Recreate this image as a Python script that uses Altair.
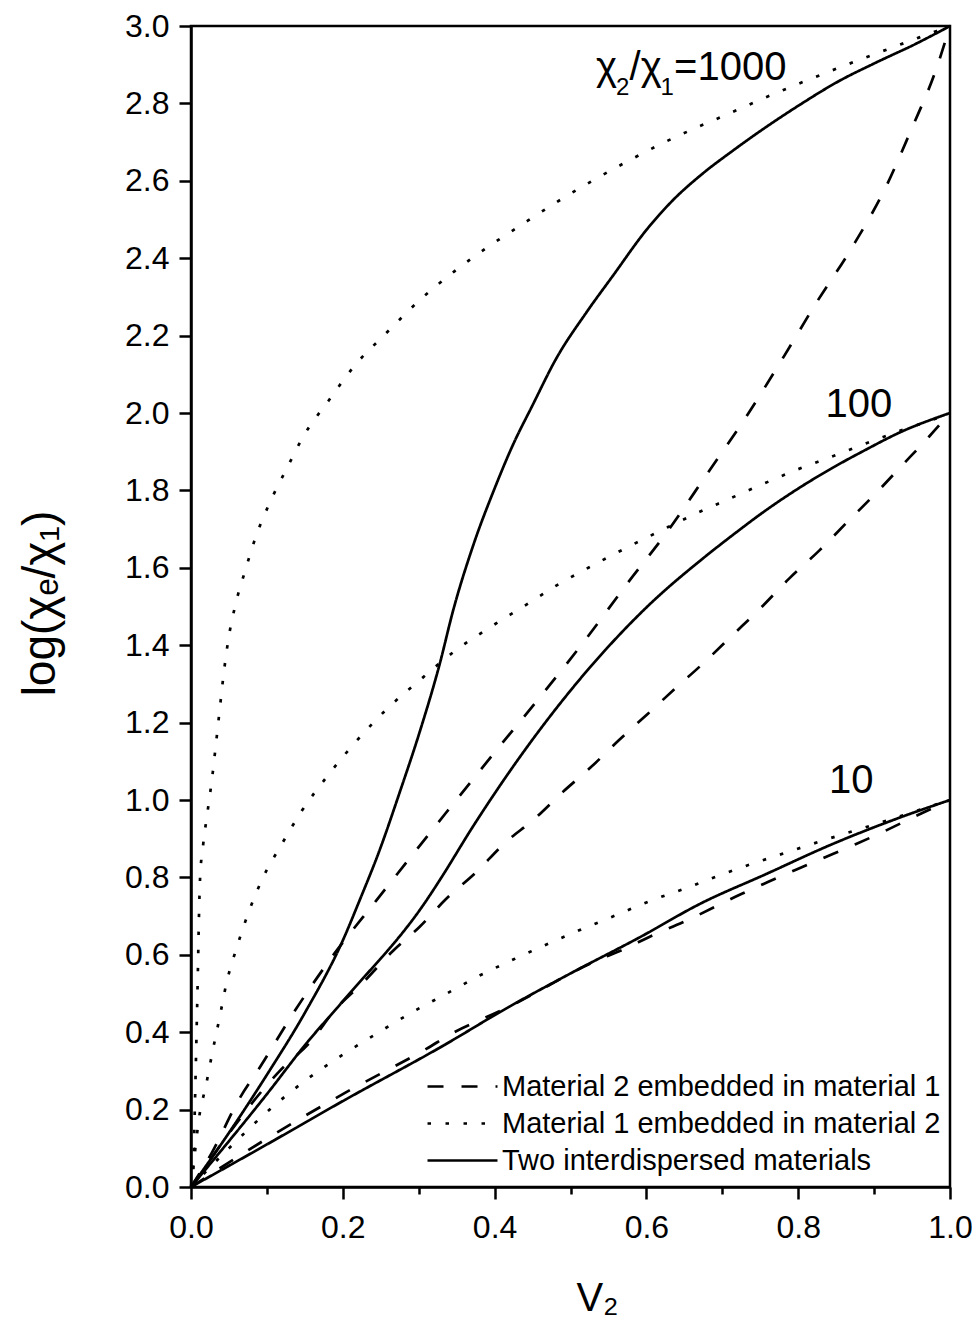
import altair as alt
import pandas as pd

FONT = "Liberation Sans, Arial, sans-serif"

M2 = "Material 2 embedded in material 1"
M1 = "Material 1 embedded in material 2"
TW = "Two interdispersed materials"

# ---- ratio 1000 ----
v_dot_1000 = [0, 0.003, 0.005, 0.007, 0.009, 0.0105, 0.012, 0.016, 0.022, 0.028, 0.033, 0.038, 0.043, 0.049, 0.058, 0.071, 0.085, 0.103, 0.126, 0.149, 0.181, 0.215, 0.257, 0.301, 0.347, 0.392, 0.436, 0.481, 0.527, 0.572, 0.617, 0.663, 0.708, 0.753, 0.797, 0.843, 0.888, 0.933, 1.0]
y_dot_1000 = [0, 0.05, 0.2, 0.37, 0.55, 0.70, 0.80, 0.884, 0.972, 1.06, 1.147, 1.237, 1.325, 1.412, 1.50, 1.59, 1.678, 1.765, 1.856, 1.943, 2.031, 2.121, 2.206, 2.291, 2.366, 2.43, 2.487, 2.544, 2.598, 2.647, 2.693, 2.735, 2.773, 2.812, 2.848, 2.884, 2.918, 2.951, 3.0]

v_sol_1000 = [0, 0.05, 0.1, 0.15, 0.2, 0.222, 0.249, 0.275, 0.301, 0.328, 0.345, 0.372, 0.4, 0.424, 0.45, 0.481, 0.521, 0.556, 0.6, 0.635, 0.675, 0.714, 0.757, 0.801, 0.854, 0.902, 0.955, 1.0]
y_sol_1000 = [0, 0.14, 0.29, 0.45, 0.637, 0.74, 0.873, 1.02, 1.174, 1.354, 1.487, 1.659, 1.805, 1.917, 2.02, 2.14, 2.26, 2.355, 2.473, 2.55, 2.62, 2.678, 2.738, 2.795, 2.858, 2.905, 2.954, 3.0]

v_das_1000 = [0, 0.027, 0.064, 0.091, 0.137, 0.187, 0.244, 0.336, 0.398, 0.459, 0.518, 0.575, 0.630, 0.679, 0.733, 0.782, 0.823, 0.871, 0.915, 0.95, 0.981, 1.0]
y_das_1000 = [0, 0.087, 0.229, 0.31, 0.456, 0.598, 0.74, 0.967, 1.118, 1.264, 1.41, 1.56, 1.70, 1.84, 1.995, 2.149, 2.282, 2.428, 2.582, 2.737, 2.884, 3.0]

# ---- ratio 100 ----
v_dot_100 = [0, 0.005, 0.0105, 0.02, 0.0285, 0.038, 0.047, 0.06, 0.075, 0.094, 0.119, 0.146, 0.179, 0.216, 0.258, 0.304, 0.347, 0.393, 0.438, 0.483, 0.529, 0.574, 0.619, 0.664, 0.709, 0.754, 0.799, 0.844, 0.889, 0.934, 0.979, 1.0]
y_dot_100 = [0, 0.087, 0.177, 0.265, 0.351, 0.441, 0.529, 0.617, 0.705, 0.796, 0.884, 0.972, 1.06, 1.148, 1.235, 1.314, 1.384, 1.445, 1.50, 1.556, 1.606, 1.652, 1.696, 1.739, 1.778, 1.817, 1.854, 1.887, 1.921, 1.954, 1.984, 2.0]

v_sol_100 = [0, 0.1, 0.152, 0.2, 0.31, 0.33, 0.371, 0.415, 0.459, 0.503, 0.547, 0.604, 0.675, 0.714, 0.757, 0.801, 0.845, 0.889, 0.933, 1.0]
y_sol_100 = [0, 0.24, 0.371, 0.48, 0.74, 0.80, 0.93, 1.06, 1.18, 1.29, 1.39, 1.505, 1.625, 1.685, 1.748, 1.806, 1.858, 1.905, 1.949, 2.0]

v_das_100 = [0, 0.117, 0.159, 0.189, 0.227, 0.266, 0.301, 0.336, 0.376, 0.413, 0.453, 0.49, 0.527, 0.564, 0.602, 0.639, 0.672, 0.714, 0.751, 0.788, 0.828, 0.865, 0.902, 0.937, 0.972, 1.0]
y_das_100 = [0, 0.30, 0.379, 0.456, 0.529, 0.61, 0.672, 0.744, 0.814, 0.888, 0.952, 1.021, 1.085, 1.155, 1.223, 1.29, 1.348, 1.427, 1.497, 1.572, 1.645, 1.719, 1.792, 1.865, 1.938, 2.0]

# ---- ratio 10 ----
v_dot_10 = [0, 0.05, 0.11, 0.154, 0.2, 0.246, 0.29, 0.336, 0.381, 0.426, 0.471, 0.516, 0.562, 0.606, 0.652, 0.697, 0.742, 0.787, 0.832, 0.878, 0.923, 0.97, 1.0]
y_dot_10 = [0, 0.10, 0.211, 0.28, 0.342, 0.398, 0.45, 0.499, 0.547, 0.589, 0.629, 0.667, 0.704, 0.74, 0.772, 0.806, 0.837, 0.866, 0.895, 0.923, 0.951, 0.981, 1.0]

v_sol_10 = [0, 0.1, 0.2, 0.333, 0.415, 0.503, 0.591, 0.672, 0.757, 0.845, 0.933, 1.0]
y_sol_10 = [0, 0.11, 0.222, 0.366, 0.461, 0.555, 0.645, 0.733, 0.808, 0.886, 0.954, 1.0]

v_das_10 = [0, 0.1, 0.2, 0.31, 0.347, 0.385, 0.422, 0.529, 0.571, 0.608, 0.648, 0.725, 0.76, 0.797, 0.834, 0.871, 0.909, 0.948, 1.0]
y_das_10 = [0, 0.125, 0.24, 0.357, 0.40, 0.435, 0.469, 0.58, 0.615, 0.65, 0.684, 0.757, 0.788, 0.82, 0.851, 0.882, 0.915, 0.952, 1.0]

# annotation labels (data coordinates of each text's left end, on its baseline)
ann_text = ["χ", "/", "χ", "=1000", "100", "10"]
ann_v = [0.5336, 0.5777, 0.5924, 0.6364, 0.8361, 0.8406]
ann_y = [2.860, 2.860, 2.860, 2.860, 1.990, 1.017]
sub_text = ["2", "1"]
sub_v = [0.5599, 0.6187]
sub_y = [2.822, 2.822]

series = [
    (M1, "1000", v_dot_1000, y_dot_1000), (TW, "1000", v_sol_1000, y_sol_1000), (M2, "1000", v_das_1000, y_das_1000),
    (M1, "100", v_dot_100, y_dot_100), (TW, "100", v_sol_100, y_sol_100), (M2, "100", v_das_100, y_das_100),
    (M1, "10", v_dot_10, y_dot_10), (TW, "10", v_sol_10, y_sol_10), (M2, "10", v_das_10, y_das_10),
]
rows = []
for model, ratio, vs, ys in series:
    for v, y in zip(vs, ys):
        rows.append({"model": model, "ratio": ratio, "V": v, "L": y})
df = pd.DataFrame(rows)

ann_df = pd.DataFrame({"t": ann_text, "V": ann_v, "L": ann_y})
sub_df = pd.DataFrame({"t": sub_text, "V": sub_v, "L": sub_y})

major = "round(datum.value*10) % 2 == 0"
xs = alt.Scale(domain=[0, 1], nice=False, zero=False)
ys_ = alt.Scale(domain=[0, 3], nice=False, zero=False)

x_axis = alt.Axis(
    values=[round(i * 0.1, 1) for i in range(11)],
    labelExpr=f"{major} ? format(datum.value, '.1f') : ''",
    tickSize={"condition": {"test": major, "value": 12}, "value": 7},
    title="V₂", titleFontSize=40, titleFont=FONT, titleFontWeight="normal",
    titleX=406, titleY=111, titleBaseline="middle", titleAlign="center",
    labelPadding=13, labelFlush=False, labelOverlap=False, grid=False,
)
y_axis = alt.Axis(
    values=[round(i * 0.1, 1) for i in range(31)],
    labelExpr=f"{major} ? format(datum.value, '.1f') : ''",
    tickSize={"condition": {"test": major, "value": 12}, "value": 7},
    title="log(χₑ/χ₁)", titleFontSize=46, titleFont=FONT, titleFontWeight="normal",
    titleX=-151, titleY=577, titleAngle=270, titleBaseline="middle", titleAlign="center",
    labelPadding=10, labelFlush=False, labelOverlap=False, grid=False,
)

lines = alt.Chart(df).mark_line(color="black", strokeWidth=2.7, interpolate="monotone").encode(
    x=alt.X("V:Q", scale=xs, axis=x_axis),
    y=alt.Y("L:Q", scale=ys_, axis=y_axis),
    strokeDash=alt.StrokeDash(
        "model:N",
        scale=alt.Scale(domain=[M2, M1, TW], range=[[16, 18], [3.5, 14.5], [1, 0]]),
        legend=alt.Legend(
            title=None, orient="none", legendX=257, legendY=1046,
            symbolType="M-3,0L3,0", symbolSize=544, symbolStrokeWidth=2.7,
            symbolStrokeColor="black", labelFontSize=29, labelFont=FONT,
            labelColor="black", labelLimit=700, rowPadding=7, labelOffset=25,
            padding=0,
        ),
    ),
    detail="ratio:N",
    order="V:Q",
)

ann = alt.Chart(ann_df).mark_text(
    align="left", baseline="alphabetic", fontSize=40, font=FONT, color="black"
).encode(x=alt.X("V:Q", scale=xs), y=alt.Y("L:Q", scale=ys_), text="t:N")

sub = alt.Chart(sub_df).mark_text(
    align="left", baseline="alphabetic", fontSize=24, font=FONT, color="black"
).encode(x=alt.X("V:Q", scale=xs), y=alt.Y("L:Q", scale=ys_), text="t:N")

chart = alt.layer(lines, ann, sub).properties(
    width=759, height=1161,
    padding={"left": 183, "top": 18, "right": 22, "bottom": 137},
    autosize=alt.AutoSizeParams(type="none"),
    background="white",
).configure_view(
    stroke="black", strokeWidth=2.5
).configure_axis(
    domainColor="black", domainWidth=2.5, tickColor="black", tickWidth=2.5,
    labelFont=FONT, labelFontSize=32, labelColor="black", titleColor="black",
)

chart.save("out.html", embed_options={"renderer": "svg", "actions": False})
